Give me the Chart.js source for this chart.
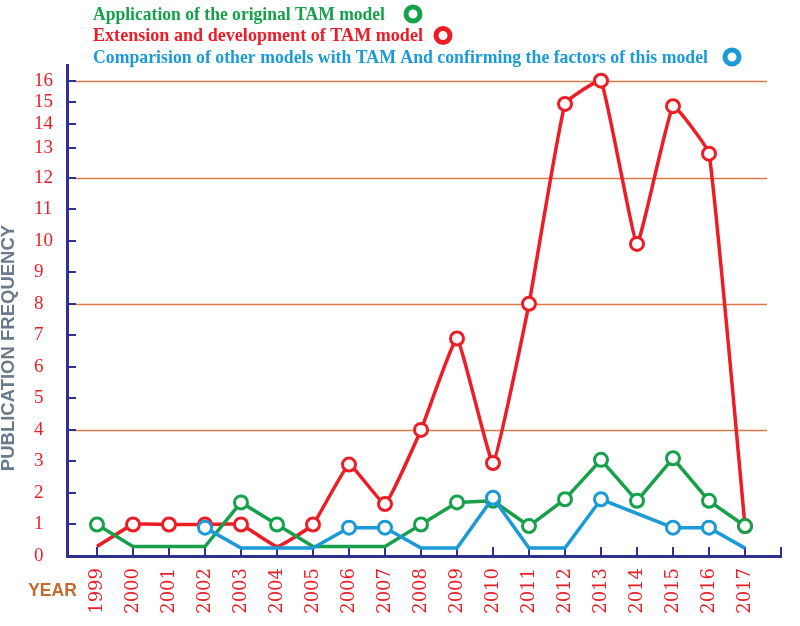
<!DOCTYPE html>
<html>
<head>
<meta charset="utf-8">
<script src="https://cdn.jsdelivr.net/npm/chart.js@4.4.1/dist/chart.umd.min.js"></script>
<style>
html,body{margin:0;padding:0;background:#ffffff;}
#wrap{width:800px;height:626px;}
</style>
</head>
<body>
<div id="wrap"><canvas id="c" width="800" height="626"></canvas></div>
<script>
// ---------- data ----------
const years = [1999,2000,2001,2002,2003,2004,2005,2006,2007,2008,2009,2010,2011,2012,2013,2014,2015,2016,2017];
const seriesNames = [
  'Application of the original TAM model',
  'Extension and development of TAM model',
  'Comparision of other models with TAM And confirming the factors of this model'
];
const applicationValues = [1,0.3,0.3,0.3,1.7,1,0.3,0.3,0.3,1,1.7,1.75,0.95,1.8,3.05,1.75,3.1,1.75,0.95];
const extensionValues   = [0.3,1,1,1,1,0.3,1,2.9,1.65,4,6.9,2.95,8,14.9,16,9.9,14.8,12.8,0.95];
const comparisonValues  = [null,null,null,0.9,0.25,0.25,0.25,0.9,0.9,0.25,0.25,1.85,0.25,0.25,1.8,null,0.9,0.9,0.25];
const yTickValues = [0,1,2,3,4,5,6,7,8,9,10,11,12,13,14,15,16];
const yGridValues = [4,8,12,16];
const yAxisTitle = 'PUBLICATION FREQUENCY';
const xAxisTitle = 'YEAR';

// ---------- styles ----------
const GREEN = '#17a04a', RED = '#ee1c25', BLUE = '#1b9ad8';
const AXIS = '#2e3192', GRID = '#dc7b4a';

// the original axis is stretched non-uniformly above 12
const yKnotValues    = [0, 12, 13, 14, 15, 16, 16.7];
const yKnotFractions = [0, 0.7705, 0.8316, 0.8792, 0.9253, 0.9680, 1];

class StretchedLinearScale extends Chart.LinearScale {
  _frac(v) {
    const n = yKnotValues.length;
    if (v <= yKnotValues[0]) return yKnotFractions[0] + (v - yKnotValues[0]) * (yKnotFractions[1]-yKnotFractions[0])/(yKnotValues[1]-yKnotValues[0]);
    for (let i = 1; i < n; i++) {
      if (v <= yKnotValues[i]) {
        const t = (v - yKnotValues[i-1]) / (yKnotValues[i] - yKnotValues[i-1]);
        return yKnotFractions[i-1] + t * (yKnotFractions[i] - yKnotFractions[i-1]);
      }
    }
    return 1;
  }
  _inv(f) {
    const n = yKnotFractions.length;
    for (let i = 1; i < n; i++) {
      if (f <= yKnotFractions[i]) {
        const t = (f - yKnotFractions[i-1]) / (yKnotFractions[i] - yKnotFractions[i-1]);
        return yKnotValues[i-1] + t * (yKnotValues[i] - yKnotValues[i-1]);
      }
    }
    return yKnotValues[n-1];
  }
  getPixelForValue(value) {
    if (value === null || value === undefined || isNaN(value)) return NaN;
    return this.getPixelForDecimal(this._frac(value));
  }
  getValueForPixel(pixel) {
    return this._inv(this.getDecimalForPixel(pixel));
  }
}
StretchedLinearScale.id = 'stretchedLinear';
StretchedLinearScale.defaults = {};
Chart.register(StretchedLinearScale);

const toPoints = vals => years.map((yr, i) => ({x: yr, y: vals[i]}));
const markerRadius = c => (c.raw && c.raw.y !== null && c.raw.y >= 0.5) ? 6.5 : 0;

const legendLayout = {
  left: 93,
  baselines: [19.5, 41, 62.5],
  widths: [292, 330, 615],
  markerX: [413, 443, 732]
};

const decor = {
  id: 'decor',
  beforeDatasetsDraw(chart) {
    const {ctx, chartArea, scales: {x, y}} = chart;
    ctx.save();
    ctx.strokeStyle = GRID;
    ctx.lineWidth = 1.5;
    yGridValues.forEach(v => {
      const py = Math.round(y.getPixelForValue(v)) + 0.5;
      ctx.beginPath();
      ctx.moveTo(chartArea.left + 6, py);
      ctx.lineTo(chartArea.right - 14, py);
      ctx.stroke();
    });
    ctx.strokeStyle = AXIS;
    ctx.lineWidth = 2;
    y.ticks.forEach(t => {
      if (t.value <= 0) return;
      const py = Math.round(y.getPixelForValue(t.value));
      ctx.beginPath();
      ctx.moveTo(chartArea.left, py);
      ctx.lineTo(chartArea.left + 9, py);
      ctx.stroke();
    });
    x.ticks.forEach(t => {
      const px = Math.round(x.getPixelForValue(t.value));
      ctx.beginPath();
      ctx.moveTo(px, chartArea.bottom);
      ctx.lineTo(px, chartArea.bottom - 9);
      ctx.stroke();
    });
    ctx.restore();
  },
  afterDraw(chart) {
    const ctx = chart.ctx;
    ctx.save();
    // legend
    chart.data.datasets.forEach((ds, i) => {
      ctx.font = 'bold 19.5px "Liberation Serif"';
      ctx.textBaseline = 'alphabetic';
      ctx.textAlign = 'left';
      ctx.fillStyle = ds.borderColor;
      const w = ctx.measureText(ds.label).width;
      ctx.save();
      ctx.translate(legendLayout.left, legendLayout.baselines[i]);
      ctx.scale(legendLayout.widths[i] / w, 1);
      ctx.fillText(ds.label, 0, 0);
      ctx.restore();
      ctx.beginPath();
      ctx.strokeStyle = ds.borderColor;
      ctx.lineWidth = 5;
      ctx.arc(legendLayout.markerX[i], legendLayout.baselines[i] - 5.5, 7, 0, Math.PI * 2);
      ctx.fillStyle = '#ffffff';
      ctx.fill();
      ctx.stroke();
    });
    // y axis title
    ctx.save();
    ctx.translate(9, 348);
    ctx.rotate(-Math.PI / 2);
    ctx.font = 'bold 18.5px "Liberation Sans"';
    ctx.fillStyle = '#6a7a8e';
    ctx.textAlign = 'center';
    ctx.textBaseline = 'middle';
    ctx.fillText(yAxisTitle, 0, 0);
    ctx.restore();
    // x axis title
    ctx.font = 'bold 17.5px "Liberation Sans"';
    ctx.fillStyle = '#c46b2c';
    ctx.textAlign = 'center';
    ctx.textBaseline = 'middle';
    ctx.fillText(xAxisTitle, 52.5, 591);
    ctx.restore();
  }
};

new Chart(document.getElementById('c'), {
  type: 'line',
  data: {
    datasets: [
      {label: seriesNames[0], data: toPoints(applicationValues), borderColor: GREEN, order: 1, tension: 0},
      {label: seriesNames[1], data: toPoints(extensionValues), borderColor: RED, order: 2, tension: 0.1},
      {label: seriesNames[2], data: toPoints(comparisonValues), borderColor: BLUE, order: 0, tension: 0, spanGaps: true}
    ].map(d => Object.assign({
      borderWidth: 3.5,
      backgroundColor: '#ffffff',
      pointBackgroundColor: '#ffffff',
      pointBorderColor: d.borderColor,
      pointBorderWidth: 3,
      pointRadius: markerRadius,
      pointHoverRadius: markerRadius,
      fill: false
    }, d))
  },
  options: {
    responsive: false,
    animation: false,
    devicePixelRatio: 1,
    layout: {padding: {top: 65, right: 19, left: 34, bottom: 0}},
    plugins: {legend: {display: false}, tooltip: {enabled: false}, title: {display: false}},
    scales: {
      x: {
        type: 'linear',
        min: years[0] - 0.833,
        max: years[years.length - 1] + 1,
        afterBuildTicks: s => { s.ticks = years.concat([years[years.length - 1] + 1]).map(v => ({value: v})); },
        afterFit: s => { s.height = 70; s.paddingLeft = 0; s.paddingRight = 0; s.paddingTop = 0; s.paddingBottom = 0; },
        grid: {display: false, drawTicks: false},
        border: {display: true, color: AXIS, width: 3},
        ticks: {
          autoSkip: false, maxRotation: 90, minRotation: 90, padding: 12,
          color: RED, font: {family: 'DejaVu Serif', size: 18},
          callback: v => (years.indexOf(v) >= 0 ? String(v) : '')
        }
      },
      y: {
        type: 'stretchedLinear',
        min: 0,
        max: 16.7,
        afterBuildTicks: s => { s.ticks = yTickValues.map(v => ({value: v})); },
        afterFit: s => { s.width = 33; s.paddingLeft = 0; s.paddingRight = 0; s.paddingTop = 0; s.paddingBottom = 0; },
        grid: {display: false, drawTicks: false},
        border: {display: true, color: AXIS, width: 3},
        ticks: {
          crossAlign: 'far', padding: 14,
          color: RED, font: {family: 'Liberation Serif', size: 19},
          callback: v => String(v)
        }
      }
    }
  },
  plugins: [decor]
});
</script>
</body>
</html>
